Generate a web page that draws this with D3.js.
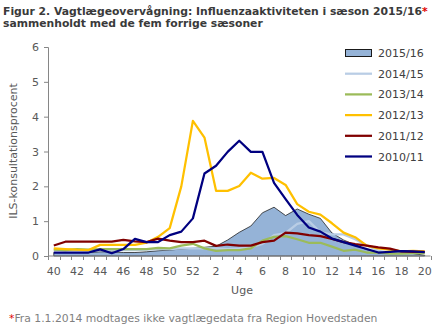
<!DOCTYPE html>
<html>
<head>
<meta charset="utf-8">
<script src="https://d3js.org/d3.v7.min.js"></script>
<style>
  body { margin: 0px; padding: 0px; background: #fff; }
  text { font-family: "DejaVu Sans", Verdana, sans-serif; }
</style>
</head>
<body>
<div id="svg_cont"></div>
<script>

// uger: 40..52, 1..20
var weeks = [40,41,42,43,44,45,46,47,48,49,50,51,52,1,2,3,4,5,6,7,8,9,10,11,12,13,14,15,16,17,18,19,20];

var s1516 = [0.10,0.10,0.10,0.10,0.12,0.12,0.10,0.10,0.12,0.15,0.17,0.20,0.22,0.25,0.28,0.46,0.68,0.86,1.24,1.40,1.16,1.35,1.20,1.08,0.66,0.46,0.32,0.18,0.12,0.10,0.10,0.07,0.02];
var s1415 = [0.18,0.17,0.17,0.16,0.17,0.17,0.17,0.17,0.18,0.20,0.20,0.22,0.22,0.22,0.22,0.20,0.22,0.25,0.35,0.60,0.66,0.92,1.00,0.68,0.62,0.62,0.48,0.30,0.15,0.10,0.10,0.10,0.10];
var s1314 = [0.18,0.17,0.20,0.18,0.20,0.20,0.20,0.20,0.20,0.23,0.22,0.30,0.35,0.22,0.15,0.17,0.17,0.22,0.44,0.55,0.57,0.48,0.38,0.38,0.27,0.15,0.18,0.10,0.10,0.07,0.07,0.08,0.08];
var s1213 = [0.22,0.20,0.18,0.17,0.32,0.32,0.32,0.32,0.38,0.55,0.80,2.00,3.88,3.40,1.87,1.87,2.01,2.39,2.22,2.24,2.04,1.49,1.27,1.19,0.94,0.67,0.54,0.30,0.22,0.18,0.13,0.15,0.13];
var s1112 = [0.30,0.41,0.41,0.41,0.41,0.41,0.46,0.42,0.40,0.50,0.44,0.40,0.40,0.44,0.29,0.33,0.30,0.30,0.40,0.44,0.67,0.65,0.60,0.57,0.49,0.40,0.34,0.30,0.25,0.21,0.13,0.12,0.12];
var s1011 = [0.10,0.10,0.10,0.10,0.19,0.08,0.20,0.49,0.40,0.40,0.60,0.70,1.08,2.37,2.59,2.99,3.31,2.99,2.99,2.10,1.63,1.18,0.82,0.70,0.50,0.40,0.30,0.20,0.10,0.12,0.14,0.13,0.11];

var yTicks = [0,1,2,3,4,5,6];

var lineSeries = [
  {name: '2014/15', values: s1415, color: '#b9cde5'},
  {name: '2013/14', values: s1314, color: '#9bbb59'},
  {name: '2012/13', values: s1213, color: '#ffc000'},
  {name: '2011/12', values: s1112, color: '#800000'},
  {name: '2010/11', values: s1011, color: '#000080'}
];

var w = 440, h = 330;
var plot = {left: 48, right: 430.5, top: 47, bottom: 256};

var svg = d3.select('#svg_cont').append('svg')
  .attr('width', w)
  .attr('height', h)
  .style('background', '#fff');

// titel
var title = svg.append('text')
  .attr('x', 3)
  .attr('y', 15)
  .attr('font-size', '10.8px')
  .attr('font-weight', 'bold')
  .attr('fill', '#3a3a3a');
title.append('tspan').text('Figur 2. Vagtlægeovervågning: Influenzaaktiviteten i sæson 2015/16');
title.append('tspan').attr('fill', '#e00000').text('*');

svg.append('text')
  .attr('x', 3)
  .attr('y', 27)
  .attr('font-size', '10.8px')
  .attr('font-weight', 'bold')
  .attr('fill', '#3a3a3a')
  .text('sammenholdt med de fem forrige sæsoner');

var x = d3.scaleBand()
  .domain(d3.range(weeks.length))
  .range([plot.left, plot.right]);

var y = d3.scaleLinear()
  .domain([0, 6])
  .range([plot.bottom, plot.top]);

var cx = i => x(i) + x.bandwidth() / 2;

// y akse
var yAxis = svg.append('g')
  .attr('transform', 'translate(' + plot.left + ',0)')
  .call(d3.axisLeft(y).tickValues(yTicks).tickSize(4).tickPadding(5).tickFormat(d3.format('d')));
yAxis.selectAll('path, line').attr('stroke', '#868686');
yAxis.selectAll('text').attr('font-size', '11px').attr('fill', '#595959').attr('font-family', '"DejaVu Sans", Verdana, sans-serif');

// 2015/16 som areal
var area = d3.area()
  .x((d, i) => cx(i))
  .y0(y(0))
  .y1(d => y(d));

svg.append('path')
  .datum(s1516)
  .attr('d', area)
  .attr('fill', '#95b3d7')
  .attr('stroke', '#1a1a1a')
  .attr('stroke-width', 0.75);

var line = d3.line()
  .x((d, i) => cx(i))
  .y(d => y(d));

svg.selectAll('path.season')
  .data(lineSeries)
  .enter().append('path')
  .attr('class', 'season')
  .attr('d', d => line(d.values))
  .attr('fill', 'none')
  .attr('stroke', d => d.color)
  .attr('stroke-width', 2.25)
  .attr('stroke-linejoin', 'round');

// x akse
var xAxis = svg.append('g')
  .attr('transform', 'translate(0,' + plot.bottom + ')');
xAxis.append('line')
  .attr('x1', plot.left).attr('x2', plot.right)
  .attr('stroke', '#868686');
xAxis.selectAll('line.tick')
  .data(d3.range(weeks.length + 1))
  .enter().append('line')
  .attr('class', 'tick')
  .attr('x1', i => Math.round(plot.left + i * x.step()) + 0.5)
  .attr('x2', i => Math.round(plot.left + i * x.step()) + 0.5)
  .attr('y1', 0).attr('y2', 4)
  .attr('stroke', '#868686');
xAxis.selectAll('text')
  .data(weeks.map((d, i) => i).filter(i => i % 2 == 0))
  .enter().append('text')
  .attr('x', i => cx(i))
  .attr('y', 19)
  .attr('text-anchor', 'middle')
  .attr('font-size', '11px')
  .attr('fill', '#595959')
  .text(i => weeks[i]);

svg.append('text')
  .attr('x', 242)
  .attr('y', 294)
  .attr('text-anchor', 'middle')
  .attr('font-size', '11px')
  .attr('fill', '#595959')
  .text('Uge');

svg.append('text')
  .attr('transform', 'translate(17,151) rotate(-90)')
  .attr('text-anchor', 'middle')
  .attr('font-size', '11px')
  .attr('fill', '#595959')
  .text('ILS-konsultationsprocent');

// legend
var legend = svg.append('g');
var legY = 53;
var legStep = 20.7;
legend.append('rect')
  .attr('x', 345.5).attr('y', legY - 3.5)
  .attr('width', 26).attr('height', 7)
  .attr('fill', '#95b3d7')
  .attr('stroke', '#1a1a1a')
  .attr('stroke-width', 1);
legend.append('text')
  .attr('x', 378).attr('y', legY + 4)
  .attr('font-size', '11px')
  .attr('fill', '#404040')
  .text('2015/16');

lineSeries.forEach(function(s, k) {
  var yy = legY + (k + 1) * legStep;
  legend.append('line')
    .attr('x1', 345).attr('x2', 372)
    .attr('y1', yy).attr('y2', yy)
    .attr('stroke', s.color)
    .attr('stroke-width', 2.25);
  legend.append('text')
    .attr('x', 378).attr('y', yy + 4)
    .attr('font-size', '11px')
    .attr('fill', '#404040')
    .text(s.name);
});

// fodnote
var foot = svg.append('text')
  .attr('x', 9)
  .attr('y', 322)
  .attr('font-size', '10.8px')
  .attr('fill', '#7f7f7f');
foot.append('tspan').attr('fill', '#e00000').text('*');
foot.append('tspan').text('Fra 1.1.2014 modtages ikke vagtlægedata fra Region Hovedstaden');

</script>
</body>
</html>
